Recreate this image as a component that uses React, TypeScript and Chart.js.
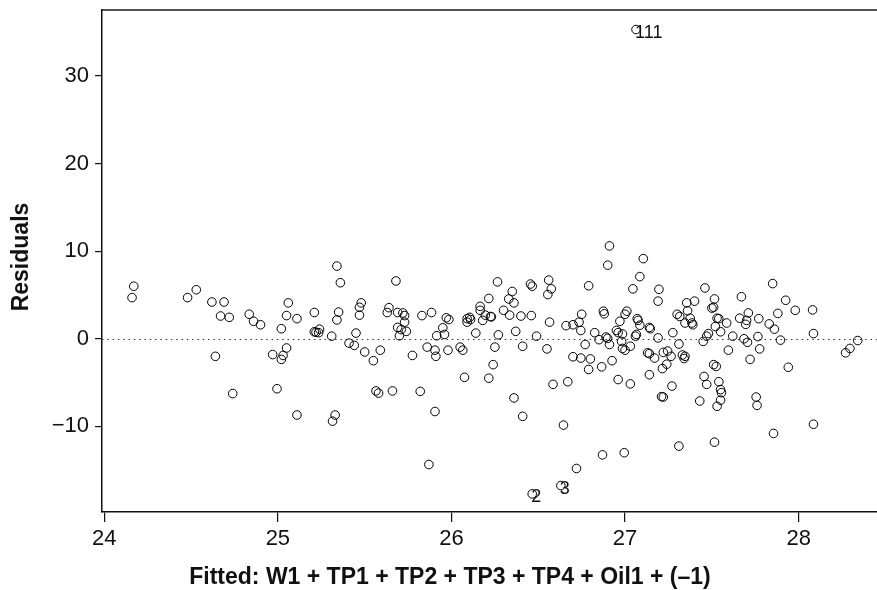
import { useEffect, useRef } from "react";
import { Chart, registerables } from "chart.js";

Chart.register(...registerables);

const fitted = [
  24.17, 24.16, 24.53, 24.48, 24.62, 24.69, 24.67, 24.72, 24.64, 24.74,
  24.835, 24.86, 24.9, 24.995, 24.97, 25.03, 25.05, 25.02, 25.02, 25.05,
  25.06, 25.11, 25.11, 25.21, 25.21, 25.22, 25.24, 25.235, 25.31, 25.34,
  25.36, 25.35, 25.34, 25.315, 25.33, 25.45, 25.41, 25.44, 25.5, 25.55,
  25.59, 25.47, 25.48, 25.47, 25.565, 25.58, 25.66, 25.64, 25.63, 25.68,
  25.69, 25.72, 25.73, 25.73, 25.69, 25.71, 25.74, 25.7, 25.775, 25.82,
  25.83, 25.885, 25.86, 25.905, 25.91, 25.905, 25.87, 25.915, 25.95, 25.96,
  25.97, 25.985, 25.98, 26.05, 26.065, 26.075, 26.09, 26.105, 26.09, 26.11,
  26.14, 26.165, 26.165, 26.18, 26.215, 26.195, 26.225, 26.23, 26.215, 26.24,
  26.25, 26.265, 26.27, 26.3, 26.335, 26.33, 26.35, 26.36, 26.37, 26.36,
  26.41, 26.4, 26.41, 26.46, 26.455, 26.465, 26.49, 26.55, 26.56, 26.555,
  26.565, 26.585, 26.575, 26.67, 26.645, 26.72, 26.87, 26.995, 26.465, 26.63,
  26.66, 26.7, 26.735, 26.75, 26.745, 26.79, 26.77, 26.7, 26.745, 26.8,
  26.79, 26.825, 26.865, 26.875, 26.88, 26.85, 26.89, 26.9, 26.91, 26.925,
  26.96, 27.03, 26.91, 26.9, 26.95, 26.96, 26.985, 26.97, 27.0, 27.01,
  26.98, 26.985, 27.0, 27.03, 27.07, 27.075, 27.085, 27.065, 27.06, 27.045,
  27.085, 27.105, 27.14, 27.145, 27.19, 27.195, 27.19, 27.13, 27.14, 27.17,
  27.14, 27.22, 27.245, 27.265, 27.24, 27.215, 27.275, 27.31, 27.21, 27.22,
  27.27, 27.3, 27.315, 27.355, 27.36, 27.4, 27.345, 27.375, 27.385, 27.39,
  27.33, 27.345, 27.34, 27.31, 27.46, 27.45, 27.47, 27.48, 27.455, 27.47,
  27.43, 27.515, 27.5, 27.51, 27.53, 27.54, 27.52, 27.55, 27.585, 27.62,
  27.595, 27.67, 27.66, 27.7, 27.695, 27.71, 27.685, 27.705, 27.72, 27.77,
  27.765, 27.775, 27.85, 27.88, 27.83, 27.86, 27.895, 27.925, 27.98, 27.94,
  28.08, 28.085, 28.27, 28.295, 28.34, 27.51, 27.525, 27.54, 27.55, 27.555,
  27.55, 27.53, 27.755, 27.76, 27.855, 28.085, 27.515, 27.063,
];

const residuals = [
  6.0, 4.7, 5.6, 4.7, 4.2, 4.2, 2.6, 2.45, -2.0, -6.25,
  2.8, 2.0, 1.6, -5.7, -1.8, -1.9, -1.05, -2.35, 1.15, 2.65,
  4.1, 2.3, -8.7, 3.0, 0.8, 0.75, 1.1, 0.7, 0.3, 8.3,
  6.4, 3.05, 2.15, -9.4, -8.7, 0.65, -0.5, -0.75, -1.5, -2.5,
  -1.3, 3.6, 4.1, 2.7, -5.95, -6.2, -5.95, 3.55, 3.0, 6.6,
  3.0, 2.95, 2.65, 1.9, 1.3, 1.05, 0.85, 0.35, -1.9, -6.0,
  2.65, 3.0, -0.95, -1.3, -2.0, -8.3, -14.35, 0.35, 1.25, 0.5,
  2.4, 2.2, -1.3, -0.95, -1.3, -4.4, 2.3, 2.45, 1.9, 2.2,
  0.65, 3.7, 3.25, 2.1, 4.6, 2.7, 2.55, 2.5, -4.5, -2.95,
  -0.95, 6.5, 0.45, 3.25, 2.7, 4.55, 5.4, 4.1, 0.85, -6.75,
  -8.85, 2.6, -0.85, 2.65, 6.25, 6.0, 0.3, -1.15, 6.7, 5.05,
  1.9, -5.2, 5.7, -4.9, -9.85, -14.8, -13.25, -13.0, -17.7, -16.75,
  1.5, 1.6, 1.9, 2.8, 0.95, 6.05, -0.65, -2.05, -2.2, -2.3,
  -3.5, 0.7, -3.2, 3.15, 2.85, -0.1, 0.2, 0.05, -0.65, -2.5,
  -4.65, -5.15, 10.6, 8.4, 0.95, 0.7, 0.55, 2.0, 2.8, 3.15,
  -0.3, -1.1, -1.3, -0.85, 2.3, 2.1, 1.55, 0.5, 0.3, 5.7,
  7.1, 9.15, 1.3, 1.15, 0.1, 5.65, 4.3, -1.6, -1.7, -2.2,
  -4.1, -1.55, -1.4, -2.0, -2.9, -3.4, 0.7, -0.6, -6.6, -6.65,
  -5.4, 2.8, 2.55, 4.1, 3.2, 4.3, 1.8, 2.35, 1.8, 1.6,
  -1.85, -2.0, -2.25, -12.25, 5.8, -0.3, 0.3, 0.6, -4.3, -5.2,
  -7.1, 4.55, 3.5, 3.6, 2.35, 2.3, 1.4, 0.8, 1.8, 0.3,
  -1.3, 4.8, 2.35, 2.1, 1.65, 2.95, 0.0, -0.4, -2.35, 2.3,
  0.25, -1.15, 6.3, 2.9, 1.7, 1.1, -0.15, 4.4, 3.25, -3.25,
  3.3, 0.6, -1.6, -1.1, -0.2, -2.95, -3.15, -4.9, -5.8, -6.15,
  -7.0, -7.7, -6.65, -7.6, -10.8, -9.75, -11.8, 35.3,
];

const labeledIds = ["111", "2", "3"];
const labeledFitted = [27.063, 26.465, 26.63];
const labeledResid = [35.3, -17.7, -16.75];

const xTicks = [24, 25, 26, 27, 28];
const yTicks = [-10, 0, 10, 20, 30];
const xRange = [23.987, 28.451];
const yRange = [-19.77, 37.53];

const xTitle = "Fitted: W1 + TP1 + TP2 + TP3 + TP4 + Oil1 + (\u20131)";
const yTitle = "Residuals";

const FONT = "'Liberation Sans', Arial, Helvetica, sans-serif";

const decorPlugin = {
  id: "decor",
  beforeDatasetsDraw(chart: any) {
    const { ctx, chartArea, scales } = chart;
    const y0 = Math.round(scales.y.getPixelForValue(0)) + 0.5;
    ctx.save();
    ctx.strokeStyle = "#333";
    ctx.lineWidth = 1.2;
    ctx.setLineDash([1.5, 3.8]);
    ctx.beginPath();
    ctx.moveTo(chartArea.left, y0);
    ctx.lineTo(chartArea.right, y0);
    ctx.stroke();
    ctx.setLineDash([]);
    ctx.strokeStyle = "#1a1a1a";
    ctx.lineWidth = 1.5;
    ctx.beginPath();
    ctx.moveTo(chartArea.left, chartArea.top);
    ctx.lineTo(chartArea.right, chartArea.top);
    ctx.stroke();
    ctx.restore();
  },
  afterDraw(chart: any) {
    const { ctx, scales } = chart;
    ctx.save();
    ctx.fillStyle = "#111";
    ctx.font = `18px ${FONT}`;
    ctx.textAlign = "left";
    ctx.textBaseline = "middle";
    labeledIds.forEach((id, i) => {
      const px = scales.x.getPixelForValue(labeledFitted[i]);
      const py = scales.y.getPixelForValue(labeledResid[i]);
      ctx.fillText(id, px - 1, py + 3);
    });
    ctx.font = `bold 23px ${FONT}`;
    ctx.textAlign = "center";
    ctx.textBaseline = "alphabetic";
    ctx.fillText(xTitle, 450, 584);
    ctx.translate(28, 257);
    ctx.rotate(-Math.PI / 2);
    ctx.fillText(yTitle, 0, 0);
    ctx.restore();
  },
};

export default function App() {
  const canvasRef = useRef<HTMLCanvasElement | null>(null);

  useEffect(() => {
    document.body.style.margin = "0";
    const canvas = canvasRef.current;
    if (!canvas) return;
    const chart = new Chart(canvas, {
      type: "scatter",
      data: {
        datasets: [
          {
            data: fitted.map((x, i) => ({ x, y: residuals[i] })),
            pointRadius: 4.3,
            pointHoverRadius: 4.3,
            borderWidth: 1,
            borderColor: "#000",
            backgroundColor: "rgba(0,0,0,0)",
            pointStyle: "circle",
          },
        ],
      },
      options: {
        animation: false,
        responsive: true,
        maintainAspectRatio: false,
        events: [],
        layout: { autoPadding: false, padding: { top: 10, right: 0, left: 0, bottom: 0 } },
        plugins: {
          legend: { display: false },
          title: { display: false },
          tooltip: { enabled: false },
        },
        scales: {
          x: {
            type: "linear",
            min: xRange[0],
            max: xRange[1],
            afterBuildTicks: (scale: any) => {
              scale.ticks = xTicks.map((v) => ({ value: v }));
            },
            afterFit: (scale: any) => {
              scale.height = 78;
              scale.paddingLeft = 0;
              scale.paddingRight = 0;
            },
            border: { display: true, color: "#111", width: 1.5 },
            grid: {
              display: true,
              drawOnChartArea: false,
              drawTicks: true,
              tickLength: 10,
              color: "#111",
              lineWidth: 1.2,
            },
            ticks: {
              color: "#111",
              padding: 4,
              autoSkip: false,
              maxRotation: 0,
              font: { family: FONT, size: 22 },
              callback: (v: any) => String(v),
            },
          },
          y: {
            type: "linear",
            min: yRange[0],
            max: yRange[1],
            afterBuildTicks: (scale: any) => {
              scale.ticks = yTicks.map((v) => ({ value: v }));
            },
            afterFit: (scale: any) => {
              scale.width = 102;
              scale.paddingTop = 0;
              scale.paddingBottom = 0;
            },
            border: { display: true, color: "#111", width: 1.5 },
            grid: {
              display: true,
              drawOnChartArea: false,
              drawTicks: true,
              tickLength: 7,
              color: "#111",
              lineWidth: 1.2,
            },
            ticks: {
              color: "#111",
              padding: 6,
              autoSkip: false,
              font: { family: FONT, size: 22 },
              callback: (v: any) => (Number(v) < 0 ? "\u2212" + Math.abs(Number(v)) : String(v)),
            },
          },
        },
      },
      plugins: [decorPlugin],
    });
    return () => chart.destroy();
  }, []);

  return (
    <div style={{ width: 877, height: 590, position: "relative", background: "#fff" }}>
      <canvas ref={canvasRef} />
    </div>
  );
}
